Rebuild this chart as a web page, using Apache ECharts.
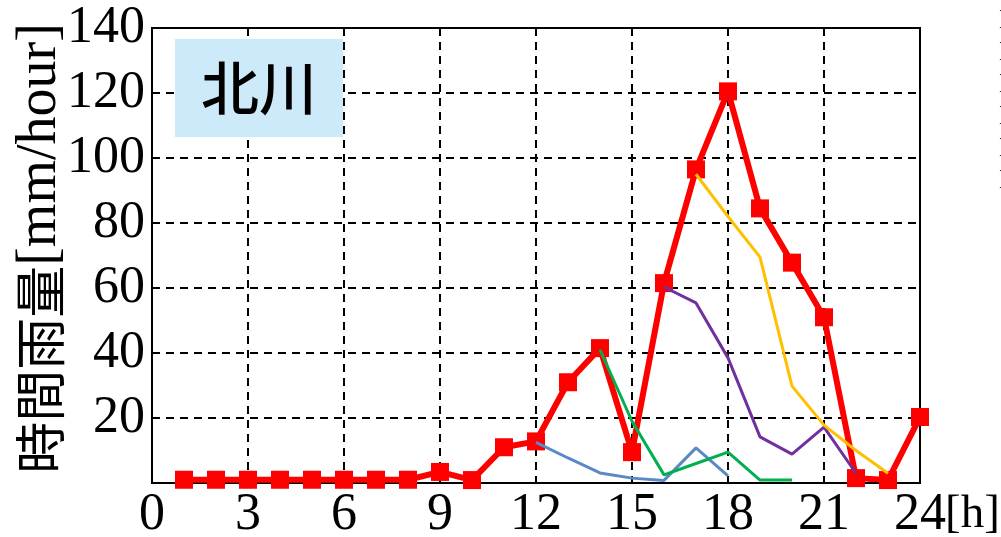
<!DOCTYPE html>
<html>
<head>
<meta charset="utf-8">
<script src="https://cdn.jsdelivr.net/npm/echarts@6/dist/echarts.min.js"></script>
<style>
    html, body { margin: 0; padding: 0; background: #fff; }
    #chart { width: 1001px; height: 537px; }
</style>
</head>
<body>
<div id="chart"></div>
<script>
// 観測値（1時〜24時）
var hours = [1, 2, 3, 4, 5, 6, 7, 8, 9, 10, 11, 12, 13, 14, 15, 16, 17, 18, 19, 20, 21, 22, 23, 24];
var observed = [1, 1, 1, 1, 1, 1, 1, 1, 3.4, 0.9, 11, 12.8, 31, 41.5, 9.5, 61.5, 96.5, 120.5, 84.5, 67.8, 51, 1.5, 0.9, 20.3];

// 予測値（開始時刻ごと）
var hours12 = [12, 13, 14, 15, 16, 17, 18];
var fcst12 = [12.5, 7.7, 3.1, 1.5, 0.8, 10.8, 2.2];
var hours14 = [14, 15, 16, 17, 18, 19, 20];
var fcst14 = [41, 19, 2.5, 6, 9.5, 0.9, 0.9];
var hours16 = [16, 17, 18, 19, 20, 21, 22];
var fcst16 = [60.3, 55.4, 38.5, 14.2, 8.9, 17.2, 3];
var hours17 = [17, 18, 19, 20, 21, 22, 23];
var fcst17 = [95, 82, 69.5, 29.8, 17.8, 10, 3];

var stationName = '北川';
var yName = ['時間雨量', '[mm/hour]'];
var xUnit = '[h]';
var edgeStubs = ['1', '1', '1', '1', '1', '1'];

function pairs(xs, ys) {
    var out = [];
    for (var i = 0; i < xs.length; i++) {
        out.push([xs[i], ys[i]]);
    }
    return out;
}

function thinLine(name, xs, ys, color) {
    return {
        name: name,
        type: 'line',
        data: pairs(xs, ys),
        symbol: 'none',
        lineStyle: { color: color, width: 3 },
        z: 3
    };
}

var serif = 'Liberation Serif';
var myChart = echarts.init(document.getElementById('chart'));
var option = {
    animation: false,
    title: {
        text: stationName,
        left: 175,
        top: 39,
        backgroundColor: '#CCEAFA',
        padding: [20, 26, 20, 26],
        textStyle: {
            fontFamily: 'Noto Sans CJK JP',
            fontSize: 58,
            fontWeight: 500,
            color: '#000',
            lineHeight: 58
        }
    },
    grid: {
        left: 152,
        right: 81,
        top: 28,
        bottom: 54,
        outerBoundsMode: 'none',
        show: true,
        borderColor: '#000',
        borderWidth: 2,
        backgroundColor: 'transparent'
    },
    xAxis: {
        type: 'value',
        min: 0,
        max: 24,
        interval: 3,
        name: xUnit,
        nameLocation: 'end',
        nameGap: 25,
        nameMoveOverlap: false,
        nameTextStyle: {
            fontFamily: serif,
            fontSize: 47,
            color: '#000',
            verticalAlign: 'top',
            padding: [8, 0, 0, 0]
        },
        axisLine: { lineStyle: { color: '#000', width: 2 } },
        axisTick: { show: false },
        axisLabel: {
            fontFamily: serif,
            fontSize: 52,
            color: '#000',
            margin: 6
        },
        splitLine: { lineStyle: { color: '#000', width: 2, type: [8, 6] } }
    },
    yAxis: {
        type: 'value',
        min: 0,
        max: 140,
        interval: 20,
        name: '{a|' + yName[0] + '}{b|' + yName[1] + '}',
        nameLocation: 'middle',
        nameGap: 84,
        nameMoveOverlap: false,
        nameTextStyle: {
            color: '#000',
            padding: [0, 0, 0, 14],
            rich: {
                a: { fontFamily: 'Noto Sans CJK JP', fontSize: 52, color: '#000' },
                b: { fontFamily: serif, fontSize: 56, color: '#000' }
            }
        },
        axisLine: { lineStyle: { color: '#000', width: 2 } },
        axisTick: { show: false },
        axisLabel: {
            fontFamily: serif,
            fontSize: 52,
            color: '#000',
            margin: 7,
            formatter: function (v) { return v === 0 ? '' : String(v); }
        },
        splitLine: { lineStyle: { color: '#000', width: 2, type: [8, 6] } }
    },
    graphic: [{
        type: 'text',
        x: 997,
        y: 4,
        style: {
            text: edgeStubs.join('\n'),
            font: '32px "Liberation Serif"',
            lineHeight: 32,
            fill: '#000'
        }
    }],
    series: [
        {
            name: '観測',
            type: 'line',
            data: pairs(hours, observed),
            symbol: 'rect',
            symbolSize: 18,
            itemStyle: { color: '#FF0000' },
            lineStyle: { color: '#FF0000', width: 6 },
            z: 2
        },
        thinLine('12時', hours12, fcst12, '#5A8AC6'),
        thinLine('14時', hours14, fcst14, '#00B050'),
        thinLine('16時', hours16, fcst16, '#7030A0'),
        thinLine('17時', hours17, fcst17, '#FFC000')
    ]
};
myChart.setOption(option);
</script>
</body>
</html>
